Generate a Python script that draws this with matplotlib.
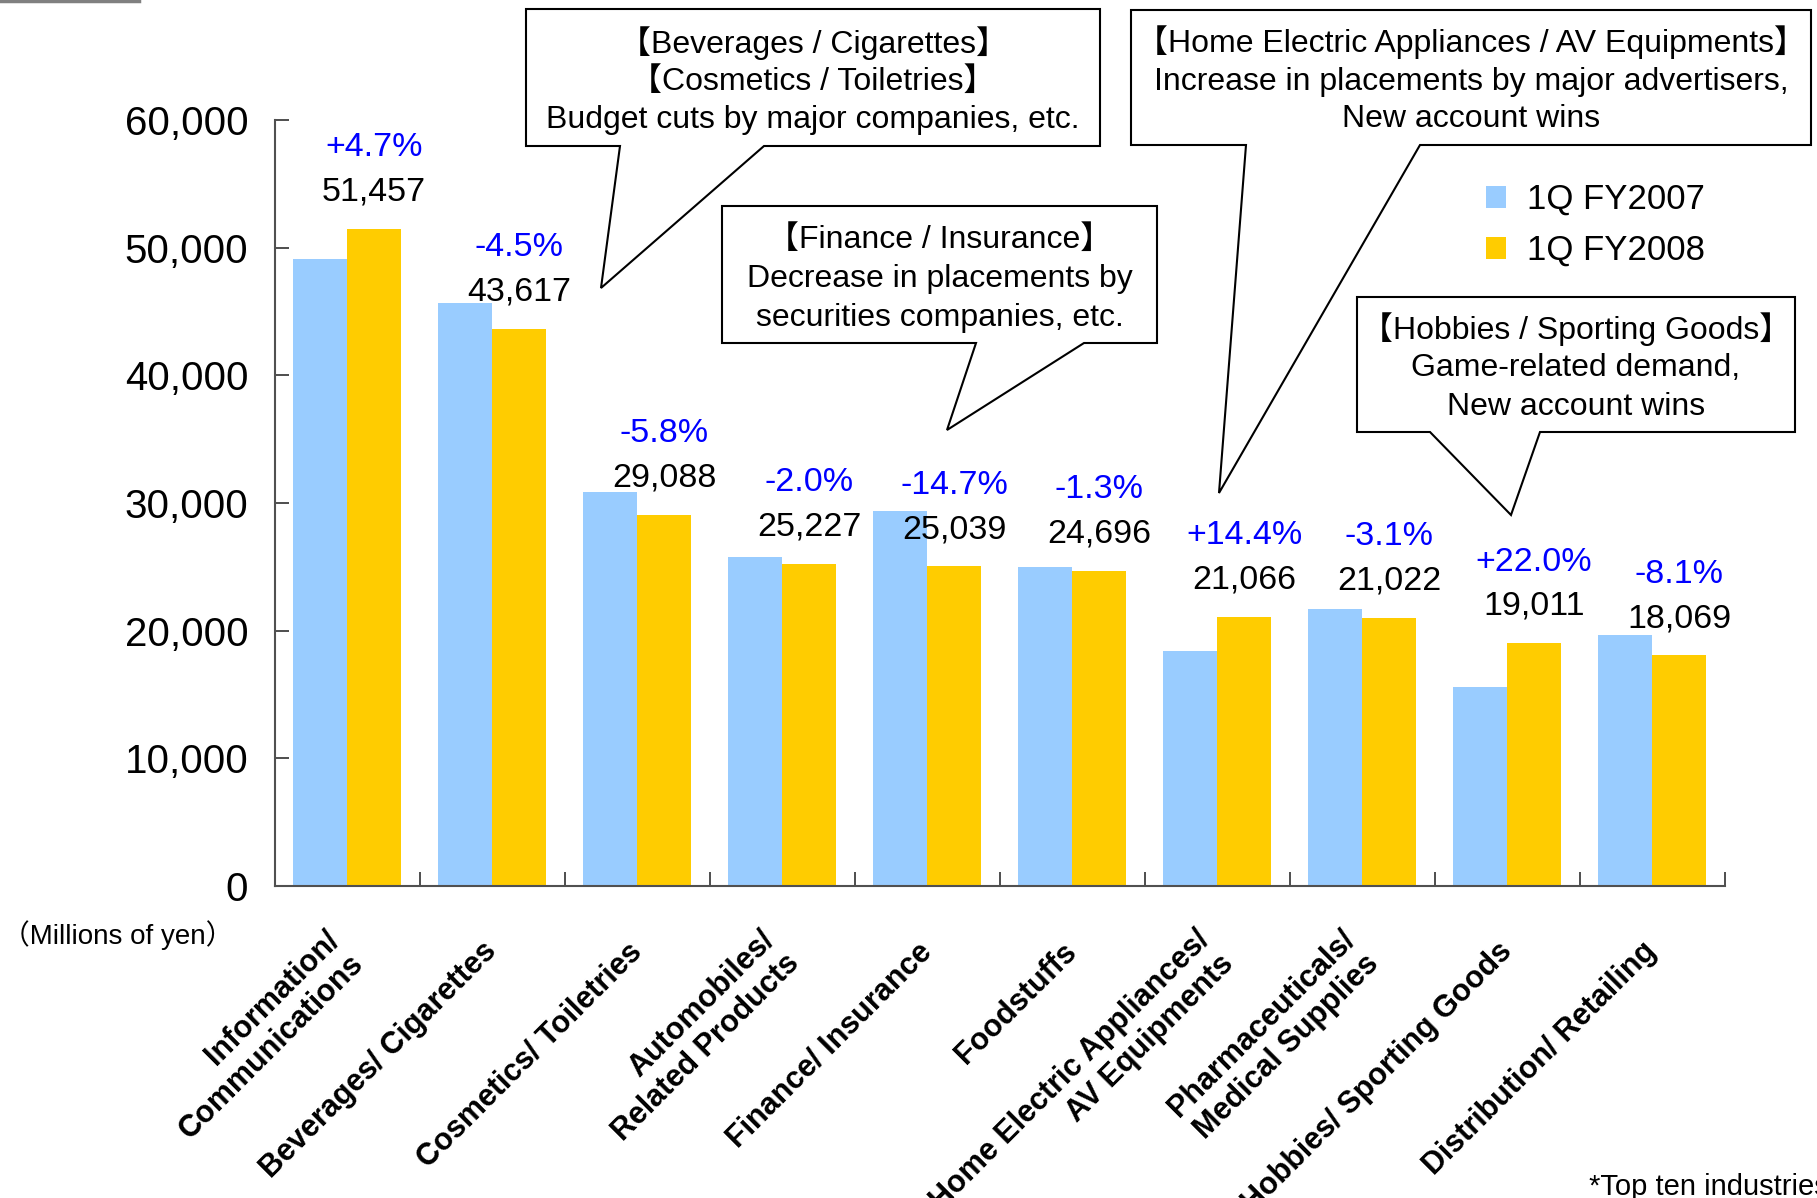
import matplotlib
matplotlib.use("Agg")
import matplotlib.pyplot as plt
from matplotlib.patches import Polygon
from matplotlib.lines import Line2D

plt.rcParams['font.family'] = ['Liberation Sans', 'Noto Sans CJK JP', 'DejaVu Sans']

# data
categories = ['Information/\nCommunications', 'Beverages/ Cigarettes', 'Cosmetics/ Toiletries',
              'Automobiles/\nRelated Products', 'Finance/ Insurance', 'Foodstuffs',
              'Home Electric Appliances/\nAV Equipments', 'Pharmaceuticals/\nMedical Supplies',
              'Hobbies/ Sporting Goods', 'Distribution/ Retailing']
fy2007 = [49147, 45672, 30879, 25742, 29354, 25021, 18414, 21695, 15583, 19662]
fy2008 = [51457, 43617, 29088, 25227, 25039, 24696, 21066, 21022, 19011, 18069]
changes = ['+4.7%', '-4.5%', '-5.8%', '-2.0%', '-14.7%', '-1.3%', '+14.4%', '-3.1%', '+22.0%', '-8.1%']
series_names = ['1Q FY2007', '1Q FY2008']
yticks = [0, 10000, 20000, 30000, 40000, 50000, 60000]

W, H = 1817, 1198
fig = plt.figure(figsize=(W / 100, H / 100), dpi=100)
ax = fig.add_axes([274.7 / W, 1 - 886 / H, 1450 / W, 766 / H])

w = 0.372
x = range(len(categories))
b1 = ax.bar([i - w / 2 for i in x], fy2007, w, color='#99CCFF', label=series_names[0])
b2 = ax.bar([i + w / 2 for i in x], fy2008, w, color='#FFCC00', label=series_names[1])

for i in x:
    ax.annotate(f'{fy2008[i]:,}', xy=(i + w / 2, fy2008[i]), xytext=(0, 26.5),
                textcoords='offset points', ha='center', va='center', fontsize=24.5)
    ax.annotate(changes[i], xy=(i + w / 2, fy2008[i]), xytext=(0, 58.5),
                textcoords='offset points', ha='center', va='center', fontsize=24.5, color='#0000FF')

ax.set_xlim(-0.5, 9.5)
ax.set_ylim(0, 60000)
ax.set_yticks(yticks)
ax.set_yticklabels([f'{t:,}' for t in yticks], fontsize=29)
ax.tick_params(axis='y', direction='in', length=10, width=1.3, color='#404040', pad=19)

ax.set_xticks(list(x))
ax.set_xticklabels(categories, rotation=45, ha='right', va='center', rotation_mode='anchor',
                   fontweight='bold', fontsize=22, multialignment='right')
ax.tick_params(axis='x', which='major', length=0, pad=44)
ax.set_xticks([i + 0.5 for i in x], minor=True)
ax.tick_params(axis='x', which='minor', direction='in', length=10, width=1.3, color='#404040')

for s in ['top', 'right']:
    ax.spines[s].set_visible(False)
for s in ['left', 'bottom']:
    ax.spines[s].set_color('#505050')
    ax.spines[s].set_linewidth(1.5)

ax.legend(handles=[b1, b2], loc='upper left', bbox_to_anchor=(1486 / W, 1 - 183 / H),
          bbox_transform=fig.transFigure, frameon=False, fontsize=25, handlelength=0.58,
          handleheight=0.58, handletextpad=0.6, labelspacing=0.52, borderpad=0, borderaxespad=0)


def callout(box, base, tip, lines, baselines):
    l, t, r, b = box
    pts = [(l, t), (r, t), (r, b), (base[1], b), tip, (base[0], b), (l, b)]
    pts = [(px / W, 1 - py / H) for px, py in pts]
    fig.add_artist(Polygon(pts, closed=True, facecolor='white', edgecolor='black',
                           lw=1.5, transform=fig.transFigure, zorder=5))
    cx = (l + r) / 2
    for s, y in zip(lines, baselines):
        fig.text(cx / W, 1 - y / H, s, ha='center', va='baseline', fontsize=23, zorder=6)


callout((526, 9, 1100, 146), (620, 764), (601, 288),
        ['【Beverages / Cigarettes】', '【Cosmetics / Toiletries】', 'Budget cuts by major companies, etc.'],
        [53, 90, 128])
callout((722, 206, 1157, 343), (976, 1084), (947, 430),
        ['【Finance / Insurance】', 'Decrease in placements by', 'securities companies, etc.'],
        [248, 287, 326])
callout((1131, 10, 1811, 145), (1246, 1420), (1219, 493),
        ['【Home Electric Appliances / AV Equipments】', 'Increase in placements by major advertisers,',
         'New account wins'],
        [52, 90, 127])
callout((1357, 297, 1795, 432), (1430, 1540), (1511, 515),
        ['【Hobbies / Sporting Goods】', 'Game-related demand,', 'New account wins'],
        [339, 376, 415])

fig.text(2 / W, 1 - 935 / H, '（Millions of yen）', ha='left', va='center', fontsize=20)
fig.text(1589 / W, 1 - 1195 / H, '*Top ten industries', ha='left', va='baseline', fontsize=21)
fig.add_artist(Line2D([0, 139 / W], [1 - 1.2 / H] * 2, color='#808080', lw=2.5,
                      transform=fig.transFigure))

fig.savefig('out.png', dpi=100)
